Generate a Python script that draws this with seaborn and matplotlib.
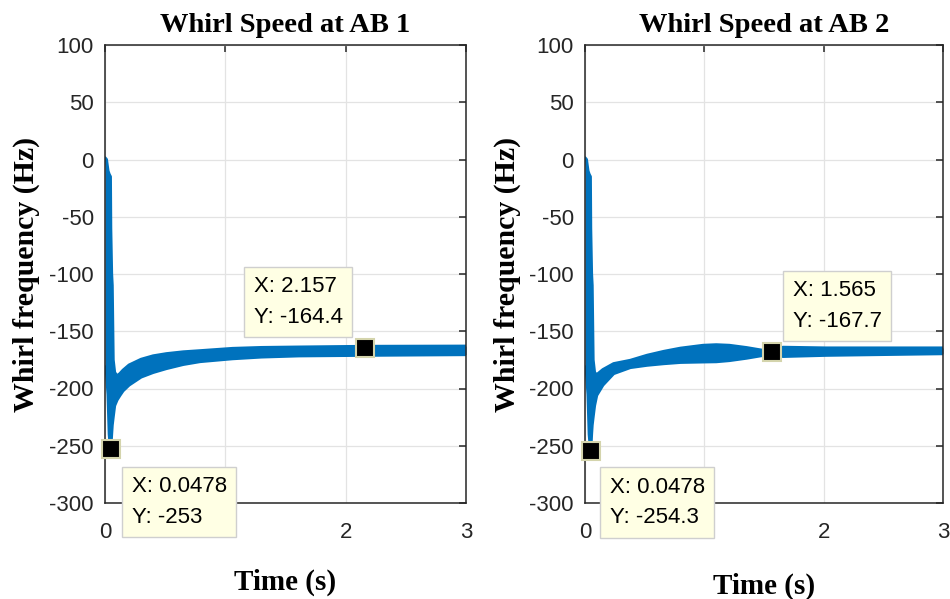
import numpy as np
import pandas as pd
import matplotlib
matplotlib.use("Agg")
import matplotlib.pyplot as plt
import seaborn as sns

# ---------------- data ----------------
# envelope of the oscillating whirl-speed signal, bearing AB 1
t_ab1 = [0.0, 0.012, 0.025, 0.035, 0.045, 0.0478, 0.055, 0.06, 0.068, 0.08, 0.1,
         0.124, 0.15, 0.2, 0.3, 0.4, 0.51, 0.65, 0.79, 1.06, 1.3, 1.61, 2.16, 3.0]
upper_ab1 = [1.5, 0.0, -10.0, -13.0, -15.0, -60.0, -100.0, -110.0, -175.0, -186.0, -189.0,
             -187.0, -184.0, -179.5, -174.5, -171.5, -169.6, -168.0, -167.0, -165.0, -164.2,
             -163.8, -163.2, -163.0]
lower_ab1 = [-181.0, -186.0, -205.0, -240.0, -252.0, -253.0, -240.0, -232.0, -225.0, -215.0, -210.0,
             -206.0, -202.0, -197.0, -190.0, -186.0, -182.6, -179.0, -176.5, -174.0, -172.5,
             -171.5, -171.0, -170.4]

# envelope, bearing AB 2
t_ab2 = [0.0, 0.012, 0.025, 0.035, 0.045, 0.0478, 0.055, 0.06, 0.068, 0.08, 0.098,
         0.15, 0.24, 0.38, 0.52, 0.66, 0.8, 0.99, 1.1, 1.21, 1.355, 1.48, 1.565, 1.66,
         2.02, 2.5, 3.0]
upper_ab2 = [1.5, 0.0, -10.0, -13.0, -15.0, -60.0, -100.0, -110.0, -175.0, -186.0, -188.0,
             -183.5, -178.3, -175.4, -171.0, -167.6, -164.8, -162.3, -161.8, -162.3, -164.3,
             -166.5, -167.0, -164.0, -164.6, -164.6, -164.6]
lower_ab2 = [-181.0, -186.0, -205.0, -240.0, -252.0, -254.3, -240.0, -232.0, -225.0, -215.0, -206.0,
             -197.0, -187.0, -181.7, -179.7, -178.3, -177.2, -176.8, -176.6, -175.6, -173.5,
             -171.3, -170.0, -172.0, -171.0, -170.3, -169.6]

# data tips
tips_ab1_x = [2.157, 0.0478]
tips_ab1_y = [-164.4, -253]
tips_ab2_x = [1.565, 0.0478]
tips_ab2_y = [-167.7, -254.3]

titles = ["Whirl Speed at AB 1", "Whirl Speed at AB 2"]
x_ticks = [0, 1, 2, 3]
# the "1" label is hidden under the data tip in the reference
x_tick_labels = ["0", "", "2", "3"]
y_ticks = [-300, -250, -200, -150, -100, -50, 0, 50, 100]

BLUE = "#0072BD"

# ---------------- style ----------------
sns.set_theme(style="white")
plt.rcParams["font.family"] = ["Liberation Sans", "DejaVu Sans"]

fig = plt.figure(figsize=(9.5, 5.99), dpi=100)
W, H = 950, 599
ax1 = fig.add_axes([105 / W, (H - 503) / H, 361 / W, 458 / H])
ax2 = fig.add_axes([585 / W, (H - 503) / H, 358 / W, 458 / H])

serif = dict(family=["Liberation Serif", "DejaVu Serif"], weight="bold", color="black")


def draw(ax, t, up, lo, tx, ty, title, tip_offsets, xlab_y):
    df = pd.DataFrame({"t": t, "up": up, "lo": lo})
    ax.fill_between(df["t"], df["lo"], df["up"], color=BLUE, lw=0, zorder=2)
    sns.lineplot(data=df, x="t", y="up", ax=ax, color=BLUE, lw=2.2, zorder=2)
    sns.lineplot(data=df, x="t", y="lo", ax=ax, color=BLUE, lw=2.2, zorder=2)

    ax.set_xlim(0, 3)
    ax.set_ylim(-300, 100)
    ax.set_xticks(x_ticks)
    ax.set_yticks(y_ticks)
    ax.set_xticklabels(x_tick_labels)
    ax.set_yticklabels([str(v) for v in y_ticks])
    ax.set_axisbelow(True)
    ax.grid(True, color="#e3e3e3", lw=0.9)
    for s in ax.spines.values():
        s.set_color("#262626")
        s.set_linewidth(1.1)
    ax.tick_params(axis="both", direction="in", length=5, width=1.1, top=True, right=True,
                   labelsize=16, colors="#262626")
    ax.tick_params(axis="x", pad=14)
    ax.tick_params(axis="y", pad=8)

    ax.set_title(title, pad=9, size=20.5, **serif)
    ax.set_ylabel("Whirl frequency (Hz)", size=21.5, **serif)
    ax.set_xlabel("Time (s)", size=21, **serif)
    ax.yaxis.set_label_coords(-0.18, 0.5)
    ax.xaxis.set_label_coords(0.5, xlab_y)

    for (x, y, (dx, dy, ha, va)) in zip(tx, ty, tip_offsets):
        ax.plot([x], [y], marker="s", ms=13, mfc="black", mec="#d4d4ac", mew=1.5,
                ls="none", zorder=5, clip_on=False)
        ax.annotate(f"X: {x:g}\nY: {y:g}", xy=(x, y), xytext=(dx, dy),
                    textcoords="offset pixels", ha=ha, va=va, multialignment="left",
                    fontsize=16, color="black",
                    linespacing=1.6, zorder=6, annotation_clip=False,
                    bbox=dict(boxstyle="square,pad=0.42", fc="#ffffe4", ec="#cfcfcf", lw=1))


draw(ax1, t_ab1, upper_ab1, lower_ab1, tips_ab1_x, tips_ab1_y, titles[0],
     [(-22, 20, "right", "bottom"), (21, -27, "left", "top")], -0.143)
draw(ax2, t_ab2, upper_ab2, lower_ab2, tips_ab2_x, tips_ab2_y, titles[1],
     [(21, 20, "left", "bottom"), (19, -26, "left", "top")], -0.152)

fig.savefig("out.png", dpi=100)
